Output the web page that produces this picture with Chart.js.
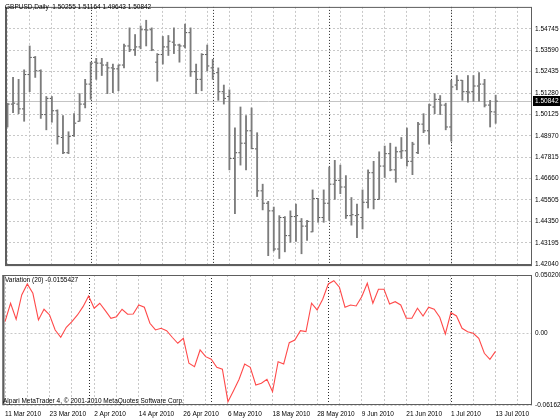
<!DOCTYPE html>
<html>
<head>
<meta charset="utf-8">
<script src="https://cdn.jsdelivr.net/npm/chart.js@4.4.0/dist/chart.umd.min.js"></script>
<style>
  body { margin: 0; background: #fff; }
  #wrap { position: relative; width: 560px; height: 420px; background: #fff; overflow: hidden; }
  #wrap canvas { position: absolute; left: 0; }
  #priceChart { top: 0; }
  #varChart { top: 262px; }
</style>
</head>
<body>
<div id="wrap">
  <canvas id="priceChart" width="560" height="273"></canvas>
  <canvas id="varChart" width="560" height="158"></canvas>
</div>
<script>
// trading days shown, 11 Mar - 13 Jul 2010
var mar = [11, 12, 15, 16, 17, 18, 19, 22, 23, 24, 25, 26, 29, 30, 31];
var apr = [1, 2, 5, 6, 7, 8, 9, 12, 13, 14, 15, 16, 19, 20, 21, 22, 23, 26, 27, 28, 29, 30];
var may = [3, 4, 5, 6, 7, 10, 11, 12, 13, 14, 17, 18, 19, 20, 21, 24, 25, 26, 27, 28, 31];
var jun = [1, 2, 3, 4, 7, 8, 9, 10, 11, 14, 15, 16, 17, 18, 21, 22, 23, 24, 25, 28, 29, 30];
var jul = [1, 2, 5, 6, 7, 8, 9, 12, 13];

var opens = [1.50063, 1.50681, 1.50681, 1.50423, 1.52276, 1.53202, 1.52481, 1.50115, 1.50989, 1.50321,
    1.48880, 1.48057, 1.48983, 1.49755, 1.50681, 1.51761, 1.52944, 1.52893, 1.52790, 1.52636,
    1.52584, 1.52790, 1.53819, 1.53613, 1.53768, 1.54694, 1.54694, 1.52944, 1.53356, 1.53768,
    1.54025, 1.53871, 1.53819, 1.54539, 1.52430, 1.52018, 1.53356, 1.52636, 1.52379, 1.51350,
    1.51092, 1.47748, 1.48057, 1.48571, 1.49240, 1.48263, 1.45999, 1.45330, 1.44918, 1.42860,
    1.44558, 1.43581, 1.44610, 1.44352, 1.44095, 1.43786, 1.45587, 1.44558, 1.45330, 1.46359,
    1.46565, 1.46205, 1.44661, 1.44661, 1.44558, 1.45381, 1.46976, 1.45536, 1.47336, 1.48005,
    1.47131, 1.48108, 1.48160, 1.47594, 1.48057, 1.49600, 1.49240, 1.50526, 1.50938, 1.50629,
    1.49446, 1.51710, 1.51967, 1.51350, 1.51350, 1.51658, 1.51761, 1.50629, 1.50255];

var highs = [1.50732, 1.52121, 1.52018, 1.52533, 1.53819, 1.53253, 1.52533, 1.51092, 1.51092, 1.50372,
    1.50063, 1.49189, 1.50166, 1.51247, 1.52018, 1.52944, 1.53150, 1.53150, 1.52944, 1.52842,
    1.52790, 1.53922, 1.54797, 1.54437, 1.54900, 1.55208, 1.54797, 1.53408, 1.54334, 1.54385,
    1.54797, 1.53922, 1.55002, 1.54797, 1.52842, 1.53408, 1.53871, 1.53099, 1.52636, 1.51710,
    1.51452, 1.49394, 1.50526, 1.50063, 1.50475, 1.49137, 1.46359, 1.45433, 1.45124, 1.44661,
    1.44610, 1.44918, 1.45278, 1.44507, 1.44404, 1.46050, 1.45587, 1.46050, 1.47285, 1.47645,
    1.47388, 1.46822, 1.45639, 1.45278, 1.46050, 1.47131, 1.47594, 1.48108, 1.48417, 1.48571,
    1.48365, 1.48880, 1.49394, 1.48623, 1.49703, 1.50166, 1.50681, 1.51247, 1.51144, 1.50732,
    1.51967, 1.52224, 1.51967, 1.52224, 1.52224, 1.52379, 1.52018, 1.50886, 1.51164];

var lows = [1.49446, 1.50218, 1.50166, 1.49755, 1.51350, 1.52121, 1.49909, 1.49292, 1.49703, 1.48520,
    1.48005, 1.48005, 1.48931, 1.49755, 1.50475, 1.50938, 1.52018, 1.52224, 1.51247, 1.51298,
    1.51401, 1.52636, 1.53510, 1.53305, 1.53665, 1.53819, 1.53562, 1.51915, 1.52842, 1.53305,
    1.53408, 1.52944, 1.53716, 1.52173, 1.51247, 1.51401, 1.52481, 1.52018, 1.50886, 1.50681,
    1.47131, 1.44764, 1.47388, 1.47131, 1.48263, 1.45690, 1.44970, 1.42500, 1.42757, 1.42346,
    1.42706, 1.43220, 1.43272, 1.42603, 1.43323, 1.43786, 1.44301, 1.44301, 1.44404, 1.45536,
    1.45844, 1.44507, 1.44147, 1.43478, 1.43941, 1.45073, 1.45021, 1.45536, 1.46719, 1.47079,
    1.46462, 1.47748, 1.47336, 1.46873, 1.48005, 1.49137, 1.48520, 1.50166, 1.50115, 1.49292,
    1.48674, 1.51452, 1.50886, 1.50784, 1.50835, 1.50835, 1.50526, 1.49446, 1.49643];

var closes = [1.50681, 1.50732, 1.50423, 1.52276, 1.53202, 1.52481, 1.50115, 1.50989, 1.50321, 1.48931,
    1.48057, 1.48931, 1.49652, 1.50681, 1.51761, 1.52893, 1.52893, 1.52790, 1.52636, 1.52584,
    1.52790, 1.53819, 1.53613, 1.53768, 1.54694, 1.54680, 1.53613, 1.53356, 1.53768, 1.54076,
    1.53871, 1.53819, 1.54539, 1.52430, 1.52018, 1.53356, 1.52739, 1.52327, 1.51350, 1.50989,
    1.47748, 1.48057, 1.48571, 1.49240, 1.48280, 1.45999, 1.45330, 1.44918, 1.42860, 1.44558,
    1.43581, 1.44610, 1.44661, 1.44095, 1.44352, 1.45587, 1.44558, 1.45330, 1.46359, 1.46565,
    1.46205, 1.44661, 1.44712, 1.44712, 1.45381, 1.46976, 1.45536, 1.47336, 1.48005, 1.47131,
    1.48108, 1.48160, 1.47594, 1.48520, 1.49600, 1.49240, 1.50629, 1.50938, 1.50629, 1.49446,
    1.51607, 1.51967, 1.51350, 1.51330, 1.51658, 1.51761, 1.50629, 1.50269, 1.50842];

var variation = [0.01006, 0.02589, 0.01213, 0.03303, 0.04249, 0.03449, 0.01153, 0.02073, 0.01583, 0.00292,
    -0.00335, 0.00525, 0.01006, 0.01583, 0.02297, 0.03217, 0.02159, 0.02589, 0.01953, 0.01299,
    0.01436, 0.02073, 0.01643, 0.01669, 0.02443, 0.02245, 0.00869, 0.00292, 0.00439, 0.00232,
    -0.00335, -0.00852, -0.00421, -0.02572, -0.02864, -0.01428, -0.02004, -0.02228, -0.02916, -0.03088,
    -0.05875, -0.04929, -0.03948, -0.02632, -0.02916, -0.04438, -0.04292, -0.03948, -0.05015, -0.02434,
    -0.02632, -0.00800, -0.00568, 0.00232, 0.00146, 0.02589, 0.02013, 0.02933, 0.04249, 0.04533,
    0.03965, 0.02245, 0.02443, 0.02357, 0.03157, 0.04309, 0.02589, 0.03793, 0.03793, 0.02529,
    0.02727, 0.02443, 0.01299, 0.01299, 0.02159, 0.01497, 0.02245, 0.02073, 0.01385, -0.00052,
    0.01780, 0.01497, 0.00439, 0.00146, 0.00009, -0.00421, -0.01712, -0.02228, -0.0155427];

var priceTicks = [1.42040, 1.43195, 1.44350, 1.45505, 1.46660, 1.47815,
    1.48970, 1.50125, 1.51280, 1.52435, 1.53590, 1.54745];
var varTicks = [0.0502, 0, -0.06162];
var varTickLabels = ['0.050200', '0.00', '-0.06162'];

// axis bounds
var priceMin = 1.41937, priceMax = 1.55928;
var varMin = -0.06162, varMax = 0.0502;
var xMin = -0.45, xMax = 94.55;

var fontFamily = "'Liberation Sans', Arial, sans-serif";
Chart.defaults.font.family = fontFamily;
Chart.defaults.font.size = 6.5;
Chart.defaults.color = '#000';
Chart.defaults.animation = false;

var gridColor = '#c8c8c8';
var frameColor = '#5e5e5e';

var dates = [];
var monthStarts = [];
[['Mar', mar], ['Apr', apr], ['May', may], ['Jun', jun], ['Jul', jul]].forEach(function (m) {
    monthStarts.push(dates.length);
    m[1].forEach(function (d) { dates.push(d + ' ' + m[0] + ' 2010'); });
});
monthStarts.shift();

var last = closes.length - 1;

var gridTicks = function (scale) {
    var t = [];
    for (var v = 0; v <= xMax; v += 4) t.push({ value: v });
    scale.ticks = t;
};

// separators, price line, frame and captions
var decor = function (cfg) {
    return {
        id: 'decor',
        beforeDatasetsDraw: function (chart) {
            var ctx = chart.ctx, a = chart.chartArea, xs = chart.scales.x;
            ctx.save();
            ctx.lineWidth = 1;
            if (cfg.priceLine !== undefined) {
                var py = Math.round(chart.scales.y.getPixelForValue(cfg.priceLine)) + 0.5;
                ctx.strokeStyle = '#c4c4c4';
                ctx.beginPath(); ctx.moveTo(a.left, py); ctx.lineTo(a.right, py); ctx.stroke();
            }
            ctx.strokeStyle = '#2a2a2a';
            ctx.setLineDash([1, 2]);
            monthStarts.forEach(function (i) {
                var px = Math.round(xs.getPixelForValue(i)) + 0.5;
                ctx.beginPath(); ctx.moveTo(px, a.top); ctx.lineTo(px, a.bottom); ctx.stroke();
            });
            ctx.restore();
        },
        afterDraw: function (chart) {
            var ctx = chart.ctx, a = chart.chartArea;
            ctx.save();
            ctx.strokeStyle = frameColor;
            ctx.lineWidth = 1;
            ctx.strokeRect(a.left + 0.5, a.top + 0.5, a.right - a.left - 1, a.bottom - a.top - 1);
            ctx.lineWidth = 2;
            ctx.beginPath(); ctx.moveTo(a.left + 1, a.top); ctx.lineTo(a.left + 1, a.bottom); ctx.stroke();
            if (cfg.thickBottom) {
                ctx.beginPath(); ctx.moveTo(a.left, a.bottom - 1); ctx.lineTo(a.right, a.bottom - 1); ctx.stroke();
            }
            ctx.font = '6.5px ' + fontFamily;
            ctx.textBaseline = 'middle';
            ctx.fillStyle = '#000';
            cfg.texts.forEach(function (t) { ctx.fillText(t.text, t.x, t.y); });
            if (cfg.priceLine !== undefined) {
                var py = Math.round(chart.scales.y.getPixelForValue(cfg.priceLine));
                ctx.fillStyle = '#000';
                ctx.fillRect(a.right + 1, py - 5, chart.width - a.right - 1, 10);
                ctx.fillStyle = '#fff';
                ctx.fillText(cfg.priceLine.toFixed(5), a.right + 3, py);
            }
            ctx.restore();
        }
    };
};

var idx = closes.map(function (c, i) { return i; });

new Chart(document.getElementById('priceChart'), {
    type: 'bar',
    data: {
        datasets: [{
            data: idx.map(function (i) { return { x: i, y: [lows[i], highs[i]] }; }),
            backgroundColor: '#7c7c7c',
            borderWidth: 0,
            barThickness: 1.2
        }, {
            type: 'line',
            data: idx.map(function (i) { return { x: i - 0.2, y: opens[i] }; }),
            showLine: false,
            pointStyle: 'line',
            pointRadius: 1,
            pointBorderWidth: 1,
            pointBorderColor: '#4a4a4a'
        }, {
            type: 'line',
            data: idx.map(function (i) { return { x: i + 0.2, y: closes[i] }; }),
            showLine: false,
            pointStyle: 'line',
            pointRadius: 1,
            pointBorderWidth: 1,
            pointBorderColor: '#4a4a4a'
        }]
    },
    options: {
        responsive: false,
        layout: { padding: { top: 1, left: 0, right: 0, bottom: 0 } },
        plugins: { legend: { display: false }, tooltip: { enabled: false } },
        scales: {
            x: {
                type: 'linear', min: xMin, max: xMax, offset: false,
                afterBuildTicks: gridTicks,
                afterFit: function (scale) { scale.height = 0; },
                ticks: { display: false, autoSkip: false },
                grid: { color: gridColor, offset: false, drawTicks: false },
                border: { display: false, dash: [2, 2] }
            },
            y: {
                position: 'right', min: priceMin, max: priceMax, beginAtZero: false,
                afterBuildTicks: function (scale) {
                    scale.ticks = priceTicks.map(function (v) { return { value: v }; });
                },
                afterFit: function (scale) { scale.width = 28; },
                ticks: {
                    autoSkip: false, padding: 3,
                    callback: function (v) { return v.toFixed(5); }
                },
                grid: { color: gridColor, drawTicks: false },
                border: { display: false, dash: [2, 2] }
            }
        }
    },
    plugins: [decor({
        priceLine: closes[last],
        thickBottom: true,
        texts: [{
            text: 'GBPUSD,Daily  ' + [opens[last], highs[last], lows[last], closes[last]]
                .map(function (v) { return v.toFixed(5); }).join(' '),
            x: 5, y: 7
        }]
    })]
});

new Chart(document.getElementById('varChart'), {
    type: 'line',
    data: {
        datasets: [{
            data: idx.map(function (i) { return { x: i, y: variation[i] }; }),
            borderColor: '#ff4a4a',
            borderWidth: 1.1,
            pointRadius: 0,
            tension: 0
        }]
    },
    options: {
        responsive: false,
        layout: { padding: { top: 13, left: 0, right: 0, bottom: 0 } },
        plugins: { legend: { display: false }, tooltip: { enabled: false } },
        scales: {
            x: {
                type: 'linear', min: xMin, max: xMax,
                afterBuildTicks: gridTicks,
                afterFit: function (scale) { scale.height = 15; },
                ticks: {
                    autoSkip: false, maxRotation: 0, align: 'start', padding: 5,
                    callback: function (v) { return (v % 8 === 0 && dates[v]) ? dates[v] : ''; }
                },
                grid: { color: gridColor, drawTicks: false },
                border: { display: false, dash: [2, 2] }
            },
            y: {
                position: 'right', min: varMin, max: varMax,
                afterBuildTicks: function (scale) {
                    scale.ticks = varTicks.map(function (v) { return { value: v }; });
                },
                afterFit: function (scale) { scale.width = 28; },
                ticks: {
                    autoSkip: false, padding: 3,
                    callback: function (v, i) { return varTickLabels[i]; }
                },
                grid: { color: gridColor, drawTicks: false },
                border: { display: false, dash: [2, 2] }
            }
        }
    },
    plugins: [decor({
        texts: [
            { text: 'Variation (20) ' + variation[last].toFixed(7), x: 5, y: 18.7 },
            { text: 'Alpari MetaTrader 4, \u00a9 2001-2010 MetaQuotes Software Corp.', x: 3, y: 139.7 }
        ]
    })]
});
</script>
</body>
</html>
